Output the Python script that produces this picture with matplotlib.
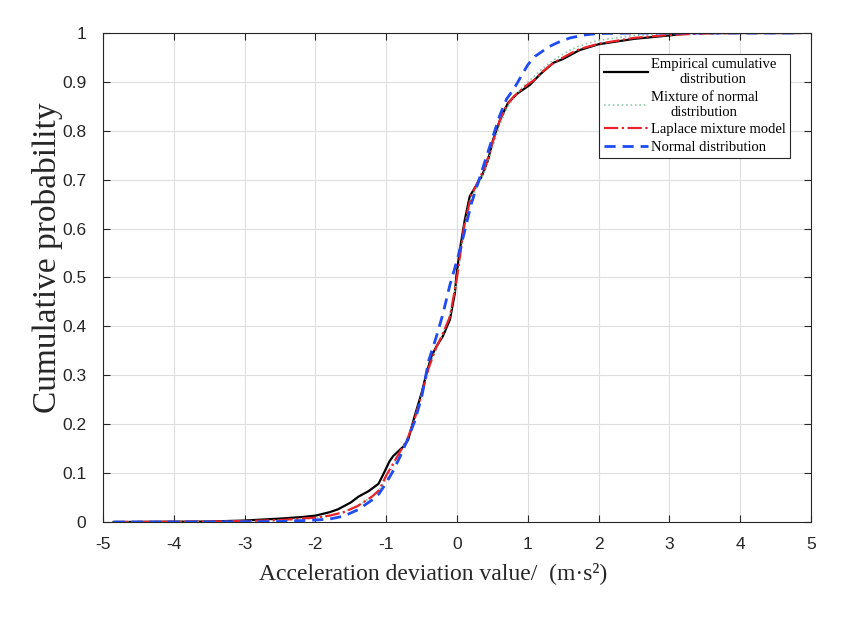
import numpy as np
import matplotlib
matplotlib.use('Agg')
import matplotlib.pyplot as plt

plt.rcParams['axes.unicode_minus'] = False

# empirical CDF
x_emp = [-4.85, -3.5, -3.0, -2.5, -2.2, -2.0, -1.8, -1.68, -1.5, -1.39, -1.25, -1.11, -1.05,
         -1.0, -0.95, -0.9, -0.82, -0.76, -0.69, -0.60, -0.50, -0.43, -0.36, -0.29, -0.20,
         -0.10, -0.03, -0.01, 0.04, 0.11, 0.18, 0.25, 0.35, 0.44, 0.51, 0.61, 0.72, 0.86,
         1.03, 1.17, 1.36, 1.5, 1.73, 2.0, 2.5, 3.0, 3.3, 4.85]
y_emp = [0.0, 0.001, 0.003, 0.007, 0.01, 0.013, 0.02, 0.026, 0.04, 0.052, 0.063, 0.078, 0.095,
         0.11, 0.125, 0.135, 0.146, 0.154, 0.168, 0.216, 0.264, 0.305, 0.339, 0.359, 0.380,
         0.414, 0.468, 0.502, 0.557, 0.618, 0.666, 0.683, 0.707, 0.741, 0.782, 0.823, 0.857, 0.877,
         0.894, 0.915, 0.939, 0.947, 0.965, 0.977, 0.988, 0.995, 1.0, 1.0]

# fitted models, same x grid
x_fit = [-4.85, -3.5, -3.0, -2.5, -2.0, -1.8, -1.6, -1.4, -1.2, -1.1, -1.0, -0.9, -0.8, -0.7,
         -0.6, -0.5, -0.4, -0.3, -0.2, -0.1, 0.0, 0.1, 0.2, 0.3, 0.4, 0.5, 0.6, 0.7, 0.8, 0.9,
         1.0, 1.1, 1.2, 1.3, 1.4, 1.5, 1.6, 1.7, 1.8, 2.0, 2.5, 3.0, 3.5, 4.0, 4.85]
y_mix_normal = [0.0, 0.0005, 0.0015, 0.003, 0.008, 0.013, 0.021, 0.033, 0.052, 0.066, 0.088, 0.115,
                0.143, 0.17, 0.21, 0.26, 0.315, 0.352, 0.385, 0.425, 0.495, 0.595, 0.66, 0.69,
                0.72, 0.765, 0.81, 0.845, 0.868, 0.885, 0.9, 0.913, 0.926, 0.938, 0.948, 0.957,
                0.965, 0.972, 0.977, 0.985, 0.995, 0.999, 1.0, 1.0, 1.0]
y_laplace = [0.0, 0.0008, 0.002, 0.004, 0.009, 0.013, 0.02, 0.033, 0.052, 0.065, 0.095, 0.12,
             0.145, 0.17, 0.21, 0.26, 0.315, 0.355, 0.385, 0.42, 0.50, 0.605, 0.668, 0.697,
             0.728, 0.775, 0.82, 0.852, 0.87, 0.883, 0.895, 0.905, 0.92, 0.932, 0.942, 0.95,
             0.958, 0.965, 0.97, 0.978, 0.99, 0.996, 0.999, 1.0, 1.0]
y_normal = [0.0, 0.0002, 0.0005, 0.001, 0.004, 0.006, 0.012, 0.025, 0.045, 0.058, 0.08, 0.105,
            0.135, 0.168, 0.205, 0.255, 0.33, 0.375, 0.425, 0.485, 0.535, 0.59, 0.65, 0.695, 0.74,
            0.785, 0.83, 0.865, 0.885, 0.91, 0.935, 0.952, 0.962, 0.972, 0.979, 0.985, 0.99,
            0.993, 0.996, 0.999, 1.0, 1.0, 1.0, 1.0, 1.0]

labels = ['Empirical cumulative\ndistribution', 'Mixture of normal\ndistribution',
          'Laplace mixture model', 'Normal distribution']

fig = plt.figure(figsize=(8.45, 6.19), dpi=100)
ax = fig.add_axes([0.1219, 0.1567, 0.8379, 0.79])

ax.plot(x_emp, y_emp, color='black', lw=1.6, label=labels[0])
ax.plot(x_fit, y_mix_normal, color='#8fc9a9', lw=1.2, ls=':', label=labels[1])
ax.plot(x_fit, y_laplace, color='#e8232b', lw=1.6, ls='-.', label=labels[2])
ax.plot(x_fit, y_normal, color='#1f4cf2', lw=2.0, ls=(0, (4, 2.5)), label=labels[3])

ax.set_xlim(-5, 5)
ax.set_ylim(0, 1)
ax.set_xticks(np.arange(-5, 6, 1))
ax.set_xticklabels([str(v) for v in range(-5, 6)])
ax.set_yticks(np.round(np.arange(0, 1.01, 0.1), 1))
ax.set_yticklabels(['0'] + ['%.1f' % v for v in np.arange(0.1, 0.95, 0.1)] + ['1'])

ax.grid(True, color='#dedede', lw=0.8)
ax.set_axisbelow(True)
ax.tick_params(direction='in', top=True, right=True, length=5, width=0.8, color='#262626',
               labelsize=12.5, labelcolor='#262626', labelfontfamily='Liberation Sans')
ax.tick_params(axis='x', pad=11)
ax.tick_params(axis='y', pad=12)
for s in ax.spines.values():
    s.set_color('#262626')
    s.set_linewidth(0.8)

ax.set_xlabel('Acceleration deviation value/  (m·s²)', family='Liberation Serif',
              fontsize=17, color='#262626', va='center')
ax.xaxis.set_label_coords(0.466, -0.105)
ax.set_ylabel('Cumulative probability', family='Liberation Serif', fontsize=24,
              color='#262626', va='center')
ax.yaxis.set_label_coords(-0.078, 0.541)

leg = ax.legend(loc='upper right', bbox_to_anchor=(0.97, 0.957), handlelength=3,
                fancybox=False, framealpha=1, edgecolor='#262626', borderpad=0.3,
                labelspacing=0.3, handletextpad=0.2, borderaxespad=0,
                prop={'family': 'Liberation Serif', 'size': 10.5})
leg.get_frame().set_linewidth(0.8)
for t in leg.get_texts():
    t.set_multialignment('center')

plt.savefig('out.png', dpi=100)
